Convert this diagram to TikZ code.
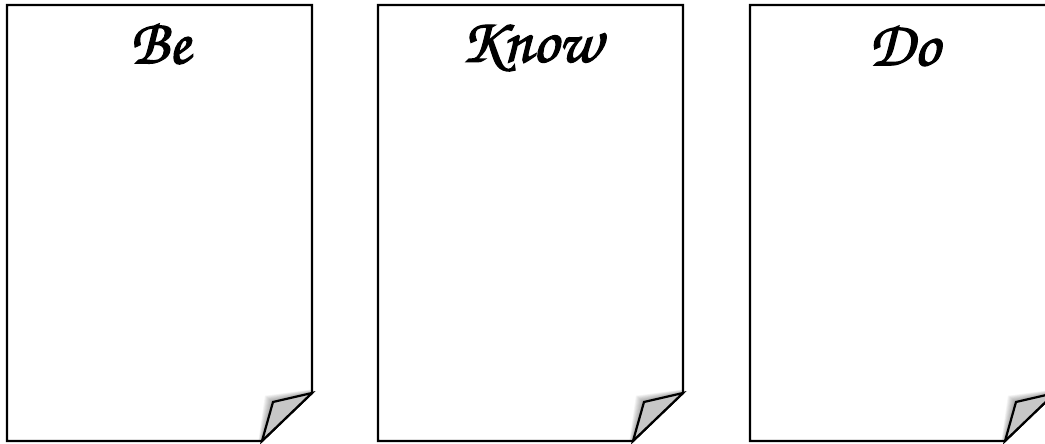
\documentclass[tikz,border=0pt]{standalone}
\usepackage{fontspec}
\newfontfamily\hand[FakeBold=2]{texgyrechorus-mediumitalic.otf}
\usetikzlibrary{calc}
\tikzset{
  pageline/.style={line width=2.2pt, line join=miter},
  curlfill/.style={fill=black!22},
  title/.style={font=\hand\fontsize{64}{68}\selectfont, inner sep=0pt, anchor=center}
}
\newcommand{\mypage}[1]{%
  \begin{scope}[xshift=#1pt]
    \coordinate (R) at (305,393);
    \coordinate (I) at (266,402);
    \coordinate (B) at (255,441);
    \fill[white] (0,441) -- (0,5) -- (305,5) -- (R) -- (B) -- cycle;
    \foreach \k in {1,...,9}
      \fill[black, opacity=0.045] ($(R)+(0,-\k*0.4)$) -- ($(I)+(-\k*0.9,-\k*0.7)$) -- ($(B)+(-\k*0.4,0)$) -- cycle;
    \draw[pageline] (0,441) -- (0,5) -- (305,5) -- (R) -- (B) -- cycle;
    \draw[pageline, curlfill] (R) -- (I) -- (B) -- cycle;
  \end{scope}}
\begin{document}
\begin{tikzpicture}[x=1pt,y=-1pt]
  \useasboundingbox (0,0) rectangle (1045,444);
  \clip (0,0) rectangle (1045,444);
  \fill[white] (0,0) rectangle (1045,444);
  \mypage{7}
  \mypage{378}
  \mypage{750}
  \node[title] (be) at (160,44) {Be};
  \node[title] (know) at (531,48) {Know};
  \node[title] (do) at (904,46) {Do};
\end{tikzpicture}
\end{document}
